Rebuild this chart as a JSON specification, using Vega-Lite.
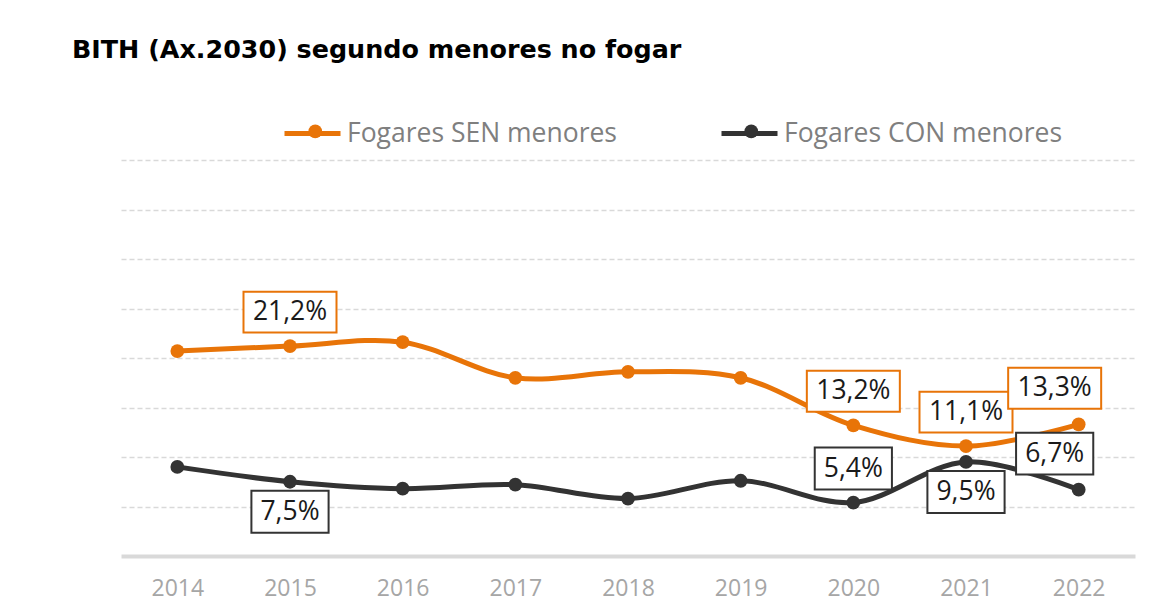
{
  "$schema": "https://vega.github.io/schema/vega-lite/v6.json",
  "autosize": {"type": "none"},
  "width": 1014,
  "height": 396,
  "padding": {"left": 121, "top": 160, "right": 18, "bottom": 56},
  "background": "white",
  "config": {
    "locale": {"number": {"decimal": ",", "thousands": ".", "grouping": [3], "currency": ["", " €"]}},
    "font": "Open Sans",
    "view": {"stroke": null}
  },
  "title": {
    "text": "BITH (Ax.2030) segundo menores no fogar",
    "anchor": "start",
    "frame": "group",
    "dx": -49,
    "offset": 40,
    "font": "DejaVu Sans",
    "fontSize": 25.4,
    "fontWeight": "bold",
    "color": "#000000"
  },
  "resolve": {"legend": {"color": "independent"}},
  "data": {
    "values": [
      {"ano": "2014", "serie": "Fogares SEN menores", "valor": 0.207, "pos": null},
      {"ano": "2015", "serie": "Fogares SEN menores", "valor": 0.212, "pos": "arriba"},
      {"ano": "2016", "serie": "Fogares SEN menores", "valor": 0.216, "pos": null},
      {"ano": "2017", "serie": "Fogares SEN menores", "valor": 0.180, "pos": null},
      {"ano": "2018", "serie": "Fogares SEN menores", "valor": 0.186, "pos": null},
      {"ano": "2019", "serie": "Fogares SEN menores", "valor": 0.180, "pos": null},
      {"ano": "2020", "serie": "Fogares SEN menores", "valor": 0.132, "pos": "arriba"},
      {"ano": "2021", "serie": "Fogares SEN menores", "valor": 0.111, "pos": "arriba"},
      {"ano": "2022", "serie": "Fogares SEN menores", "valor": 0.133, "pos": "esquerda"},
      {"ano": "2014", "serie": "Fogares CON menores", "valor": 0.090, "pos": null},
      {"ano": "2015", "serie": "Fogares CON menores", "valor": 0.075, "pos": "abaixo"},
      {"ano": "2016", "serie": "Fogares CON menores", "valor": 0.068, "pos": null},
      {"ano": "2017", "serie": "Fogares CON menores", "valor": 0.072, "pos": null},
      {"ano": "2018", "serie": "Fogares CON menores", "valor": 0.058, "pos": null},
      {"ano": "2019", "serie": "Fogares CON menores", "valor": 0.076, "pos": null},
      {"ano": "2020", "serie": "Fogares CON menores", "valor": 0.054, "pos": "arriba"},
      {"ano": "2021", "serie": "Fogares CON menores", "valor": 0.095, "pos": "abaixo"},
      {"ano": "2022", "serie": "Fogares CON menores", "valor": 0.067, "pos": "esquerda"}
    ]
  },
  "encoding": {
    "x": {
      "field": "ano", "type": "ordinal",
      "scale": {"type": "point", "padding": 0.5},
      "axis": {
        "title": null, "labelAngle": 0, "labelFontSize": 23, "labelColor": "#A6A6A6",
        "labelPadding": 21, "ticks": false, "domainColor": "#D9D9D9", "domainWidth": 4,
        "grid": false, "labelFont": "Open Sans"
      }
    },
    "y": {
      "field": "valor", "type": "quantitative",
      "scale": {"domain": [0, 0.4]},
      "axis": {
        "title": null, "labels": false, "ticks": false, "domain": false,
        "values": [0.05, 0.1, 0.15, 0.2, 0.25, 0.3, 0.35, 0.4],
        "grid": true, "gridColor": "#D9D9D9", "gridDash": [5, 3], "gridWidth": 1.5
      }
    }
  },
  "layer": [
    {
      "mark": {"type": "line", "interpolate": "catmull-rom", "strokeWidth": 5},
      "encoding": {
        "color": {
          "field": "serie", "type": "nominal",
          "scale": {"domain": ["Fogares SEN menores", "Fogares CON menores"], "range": ["#E87408", "#333333"]},
          "legend": {
            "title": null,
            "orient": "none",
            "direction": "horizontal",
            "legendX": 161,
            "legendY": -57,
            "symbolType": "stroke",
            "symbolSize": 3136,
            "symbolStrokeWidth": 5,
            "labelFontSize": 26.5,
            "labelLimit": 500,
            "labelColor": "#7F7F7F",
            "labelFont": "Open Sans",
            "labelOffset": 4,
            "columnPadding": 94
          }
        }
      }
    },
    {
      "mark": {"type": "point", "filled": true, "size": 190, "opacity": 1},
      "encoding": {
        "color": {
          "field": "serie", "type": "nominal",
          "legend": {
            "title": null,
            "orient": "none",
            "direction": "horizontal",
            "legendX": 181,
            "legendY": -42,
            "symbolType": "circle",
            "symbolSize": 190,
            "symbolStrokeWidth": 0,
            "symbolOpacity": 1,
            "labelFontSize": 26.5,
            "labelExpr": "''",
            "labelOffset": 4,
            "columnPadding": 405
          }
        }
      }
    },
    {
      "transform": [{"filter": "datum.pos === 'arriba'"}, {"calculate": "datum.serie", "as": "caixa"}],
      "mark": {"type": "point", "filled": false, "fill": "white", "fillOpacity": 1, "opacity": 1, "strokeWidth": 2, "size": 8649, "yOffset": -34},
      "encoding": {
        "color": {"field": "serie", "type": "nominal", "legend": null},
        "shape": {"field": "caixa", "type": "nominal", "legend": null,
          "scale": {"domain": ["Fogares SEN menores", "Fogares CON menores"], "range": ["M-1,-0.44H1V0.44H-1Z", "M-0.83,-0.45H0.83V0.45H-0.83Z"]}}
      }
    },
    {
      "transform": [{"filter": "datum.pos === 'abaixo'"}, {"calculate": "datum.serie", "as": "caixa"}],
      "mark": {"type": "point", "filled": false, "fill": "white", "fillOpacity": 1, "opacity": 1, "strokeWidth": 2, "size": 8649, "yOffset": 30},
      "encoding": {
        "color": {"field": "serie", "type": "nominal", "legend": null},
        "shape": {"field": "caixa", "type": "nominal", "legend": null,
          "scale": {"domain": ["Fogares SEN menores", "Fogares CON menores"], "range": ["M-1,-0.44H1V0.44H-1Z", "M-0.83,-0.45H0.83V0.45H-0.83Z"]}}
      }
    },
    {
      "transform": [{"filter": "datum.pos === 'esquerda'"}, {"calculate": "datum.serie", "as": "caixa"}],
      "mark": {"type": "point", "filled": false, "fill": "white", "fillOpacity": 1, "opacity": 1, "strokeWidth": 2, "size": 8649, "yOffset": -36, "xOffset": -24},
      "encoding": {
        "color": {"field": "serie", "type": "nominal", "legend": null},
        "shape": {"field": "caixa", "type": "nominal", "legend": null,
          "scale": {"domain": ["Fogares SEN menores", "Fogares CON menores"], "range": ["M-1,-0.44H1V0.44H-1Z", "M-0.83,-0.45H0.83V0.45H-0.83Z"]}}
      }
    },
    {
      "transform": [{"filter": "datum.pos === 'arriba'"}],
      "mark": {"type": "text", "fontSize": 26.5, "baseline": "middle", "align": "center", "dy": -34, "font": "Open Sans"},
      "encoding": {"text": {"field": "valor", "format": ".1%"}, "color": {"value": "#1A1A1A"}}
    },
    {
      "transform": [{"filter": "datum.pos === 'abaixo'"}],
      "mark": {"type": "text", "fontSize": 26.5, "baseline": "middle", "align": "center", "dy": 30, "font": "Open Sans"},
      "encoding": {"text": {"field": "valor", "format": ".1%"}, "color": {"value": "#1A1A1A"}}
    },
    {
      "transform": [{"filter": "datum.pos === 'esquerda'"}],
      "mark": {"type": "text", "fontSize": 26.5, "baseline": "middle", "align": "center", "dy": -36, "dx": -24, "font": "Open Sans"},
      "encoding": {"text": {"field": "valor", "format": ".1%"}, "color": {"value": "#1A1A1A"}}
    }
  ]
}
